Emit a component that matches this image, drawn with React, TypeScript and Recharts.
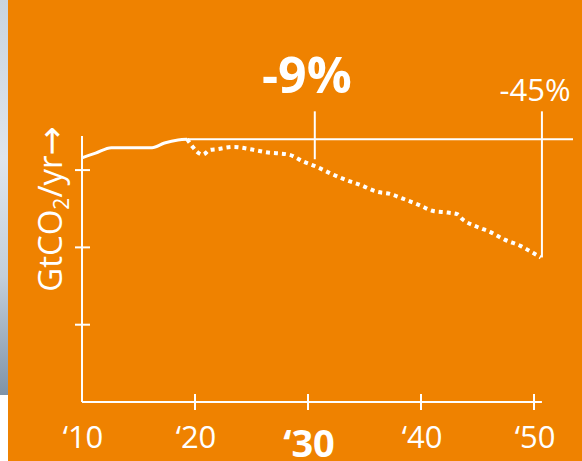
import React from 'react';
import { LineChart, Line, XAxis, YAxis, ReferenceLine, ReferenceDot } from 'recharts';

// historical emissions (solid)
const histYears = [2010, 2011.2, 2012.6, 2014.1, 2016.2, 2017.3, 2018.5, 2019.3];
const histValues = [31.6, 32.2, 32.9, 32.9, 32.9, 33.5, 33.9, 34.0];

// projected pathway (dotted)
const projYears = [2019.3, 2019.8, 2020.15, 2020.7, 2021.3, 2021.9, 2023.4, 2024.9, 2026.3, 2028.3, 2029.6, 2030.8, 2032.1, 2033.4, 2034.6, 2036.1, 2037.3, 2038.4, 2039.8, 2041.1, 2042.4, 2043.2, 2043.7, 2044.9, 2046.1, 2047.4, 2048.8, 2049.9, 2050.6];
const projValues = [34.0, 33.0, 32.4, 32.0, 32.6, 32.7, 33.0, 32.7, 32.3, 32.0, 31.1, 30.4, 29.5, 28.7, 28.1, 27.2, 26.9, 26.3, 25.5, 24.7, 24.5, 24.3, 23.6, 22.7, 22.0, 21.0, 20.2, 19.3, 18.7];

const xTicks = [2010, 2020, 2030, 2040, 2050];
const yTicks = [10, 20, 30];
const baseline = 34.0;

const histData = histYears.map((year, i) => ({ year, v: histValues[i] }));
const projData = projYears.map((year, i) => ({ year, v: projValues[i] }));

const ORANGE = '#EF8200';
const WHITE = '#FFFFFF';
const FONT = '"Open Sans", sans-serif';

const XTick = (props: any) => {
  const { x, y, payload } = props;
  const v = payload.value;
  const bold = v === 2030;
  return (
    <g>
      {v !== 2010 && <line x1={x} x2={x} y1={y - 8} y2={y + 8} stroke={WHITE} strokeWidth={2} />}
      <text
        x={x + 1}
        y={bold ? y + 55 : y + 46}
        textAnchor="middle"
        fill={WHITE}
        fontFamily={FONT}
        fontSize={bold ? 38 : 31}
        fontWeight={bold ? 700 : 400}
      >
        {'\u2018' + String(v).slice(2)}
      </text>
    </g>
  );
};

const YTick = (props: any) => {
  const { x, y } = props;
  return <line x1={x - 7} x2={x + 8} y1={y} y2={y} stroke={WHITE} strokeWidth={2} />;
};

const YLabel = () => {
  const cx = 62;
  const cy = 209;
  return (
    <text
      x={cx}
      y={cy}
      transform={`rotate(-90, ${cx}, ${cy})`}
      textAnchor="middle"
      fill={WHITE}
      fontFamily={FONT}
      fontSize={33}
    >
      GtCO<tspan fontSize={21} dy={7}>2</tspan><tspan dy={-7}>/yr</tspan>
      <tspan fontFamily='"DejaVu Sans", sans-serif' fontSize={35} dy={1}>→</tspan>
    </text>
  );
};

const pctText = (value: string, size: number, weight: number) => (p: any) => (
  <text x={p.cx} y={p.cy} textAnchor="middle" fill={WHITE} fontFamily={FONT} fontSize={size} fontWeight={weight}>
    {value}
  </text>
);

export default function App() {
  return (
    <div style={{ position: 'absolute', left: 0, top: 0, width: 582, height: 461, background: ORANGE }}>
      <div style={{ position: 'absolute', left: 0, top: 0, width: 8, height: 395, background: 'linear-gradient(180deg, #c9d4df 0%, #dfe5ec 40%, #c3cfdb 70%, #7f93a8 100%)' }} />
      <div style={{ position: 'absolute', left: 0, top: 395, width: 8, height: 66, background: '#ffffff' }} />
      <div style={{ position: 'absolute', left: 0, top: 0 }}>
        <LineChart width={582} height={461} margin={{ top: 46.4, right: 9, bottom: 0, left: 0 }}>
          <XAxis
            dataKey="year"
            type="number"
            domain={[2010, 2053.45]}
            ticks={xTicks}
            allowDataOverflow
            axisLine={false}
            tickLine={false}
            tickSize={0}
            tickMargin={0}
            height={59}
            tick={(p: any) => <XTick {...p} />}
            interval={0}
          />
          <YAxis
            type="number"
            domain={[0, 46]}
            ticks={yTicks}
            allowDataOverflow
            axisLine={false}
            tickLine={false}
            tickSize={0}
            tickMargin={0}
            width={82}
            tick={(p: any) => <YTick {...p} />}
            interval={0}
            label={{ content: () => <YLabel /> }}
          />
          {/* axis lines */}
          <ReferenceLine segment={[{ x: 2010, y: 0 }, { x: 2010, y: 34.4 }]} stroke={WHITE} strokeWidth={2} ifOverflow="visible" />
          <ReferenceLine segment={[{ x: 2010, y: 0 }, { x: 2050.7, y: 0 }]} stroke={WHITE} strokeWidth={2} ifOverflow="visible" />
          {/* baseline and markers */}
          <ReferenceLine segment={[{ x: 2019.3, y: baseline }, { x: 2053.45, y: baseline }]} stroke={WHITE} strokeWidth={2} ifOverflow="visible" />
          <ReferenceLine segment={[{ x: 2030.6, y: 31.4 }, { x: 2030.6, y: 37.6 }]} stroke={WHITE} strokeWidth={2} ifOverflow="visible" />
          <ReferenceLine segment={[{ x: 2050.7, y: 18.7 }, { x: 2050.7, y: 37.6 }]} stroke={WHITE} strokeWidth={2} ifOverflow="visible" />
          <Line data={histData} dataKey="v" type="monotone" stroke={WHITE} strokeWidth={3} dot={false} isAnimationActive={false} />
          <Line data={projData} dataKey="v" type="monotone" stroke={WHITE} strokeWidth={4} strokeDasharray="4 4" dot={false} isAnimationActive={false} />
          <ReferenceDot x={2029.9} y={40.0} r={0} shape={pctText('-9%', 50, 700)} ifOverflow="visible" />
          <ReferenceDot x={2050.1} y={39.0} r={0} shape={pctText('-45%', 31, 400)} ifOverflow="visible" />
        </LineChart>
      </div>
    </div>
  );
}
